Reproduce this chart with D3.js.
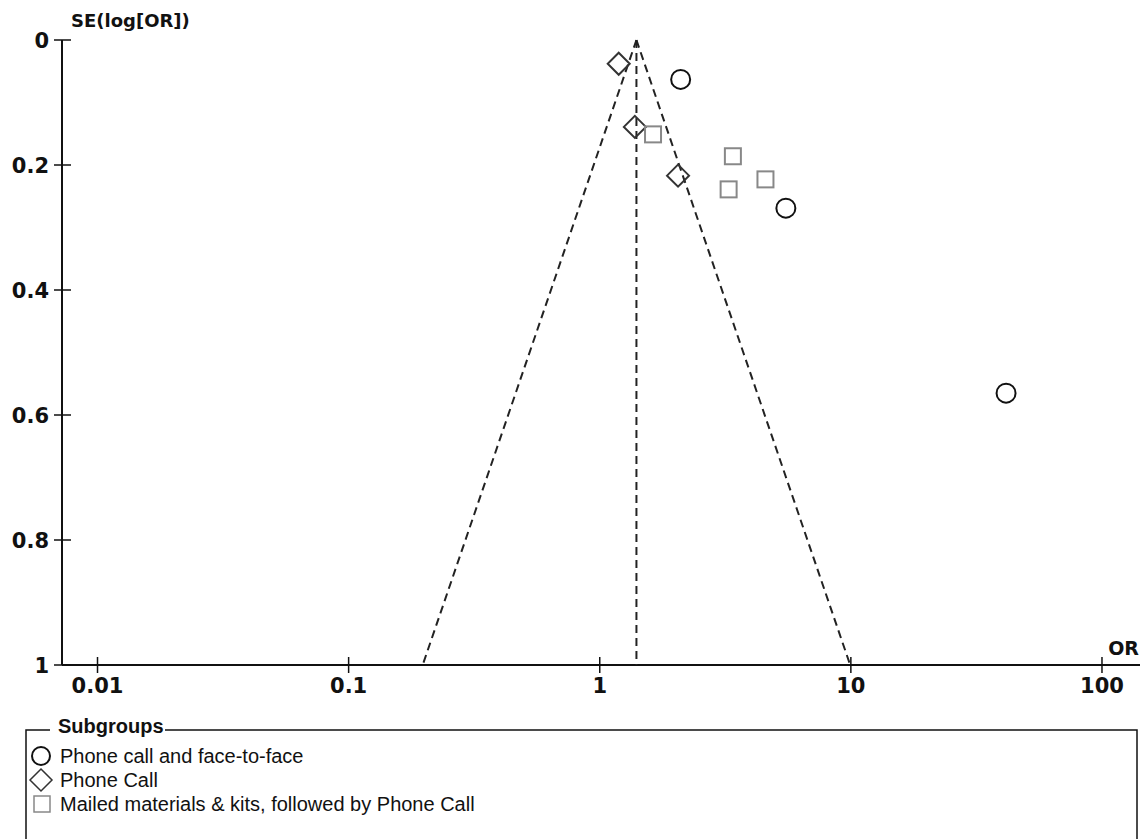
<!DOCTYPE html>
<html><head><meta charset="utf-8">
<script src="https://cdn.jsdelivr.net/npm/d3@7"></script>
<style>body{margin:0;background:#fff}svg{display:block}</style>
</head><body>
<script>
// Data
const groups = ["Phone call and face-to-face", "Phone Call", "Mailed materials & kits, followed by Phone Call"];
const circleOR = [2.10, 5.51, 41.5];
const circleSE = [0.063, 0.269, 0.565];
const diamondOR = [1.19, 1.38, 2.05];
const diamondSE = [0.038, 0.139, 0.217];
const squareOR = [1.63, 3.39, 4.57, 3.26];
const squareSE = [0.151, 0.186, 0.223, 0.239];
const summaryOR = 1.40;
const xTicks = [0.01, 0.1, 1, 10, 100];
const xTickLabels = ["0.01", "0.1", "1", "10", "100"];
const yTicks = [0, 0.2, 0.4, 0.6, 0.8, 1];
const yTickLabels = ["0", "0.2", "0.4", "0.6", "0.8", "1"];

const W = 1140, H = 839;
const svg = d3.select("body").append("svg").attr("width", W).attr("height", H);

const x = d3.scaleLog().domain([Math.pow(10, -2.1414), Math.pow(10, 2.1514)]).range([62, 1140]);
const y = d3.scaleLinear().domain([0, 1]).range([40, 665]);

const tickFont = "'DejaVu Sans', sans-serif";

// Axes
svg.append("line").attr("x1", 62).attr("x2", 62).attr("y1", y(0)).attr("y2", y(1)).attr("stroke", "#111").attr("stroke-width", 2);
svg.append("line").attr("x1", 62).attr("x2", 1140).attr("y1", y(1)).attr("y2", y(1)).attr("stroke", "#111").attr("stroke-width", 2);

yTicks.forEach((t, i) => {
  svg.append("line").attr("x1", 54).attr("x2", 71).attr("y1", y(t)).attr("y2", y(t)).attr("stroke", "#111").attr("stroke-width", 1.5);
  svg.append("text").attr("x", 49).attr("y", y(t)).attr("dy", "0.36em").attr("text-anchor", "end")
    .attr("font-family", tickFont).attr("font-weight", "bold").attr("font-size", 21).attr("fill", "#111")
    .text(yTickLabels[i]);
});
xTicks.forEach((t, i) => {
  svg.append("line").attr("x1", x(t)).attr("x2", x(t)).attr("y1", 657).attr("y2", 673).attr("stroke", "#111").attr("stroke-width", 1.5);
  svg.append("text").attr("x", x(t)).attr("y", 693).attr("text-anchor", "middle")
    .attr("font-family", tickFont).attr("font-weight", "bold").attr("font-size", 21).attr("fill", "#111")
    .text(xTickLabels[i]);
});
svg.append("text").attr("x", 71).attr("y", 27).attr("font-family", tickFont).attr("font-weight", "bold")
  .attr("font-size", 18).attr("fill", "#111").text("SE(log[OR])");
svg.append("text").attr("x", 1139).attr("y", 655).attr("text-anchor", "end").attr("font-family", tickFont).attr("font-weight", "bold")
  .attr("font-size", 19).attr("fill", "#111").text("OR");

// Funnel
const lnS = Math.log(summaryOR);
const dashStyle = sel => sel.attr("stroke", "#222").attr("stroke-width", 2).attr("stroke-dasharray", "8,5").attr("fill", "none");
svg.append("line").attr("x1", x(summaryOR)).attr("x2", x(summaryOR)).attr("y1", y(0)).attr("y2", y(1)).call(dashStyle);
svg.append("line").attr("x1", x(summaryOR)).attr("y1", y(0)).attr("x2", x(Math.exp(lnS - 1.96))).attr("y2", y(1)).call(dashStyle);
svg.append("line").attr("x1", x(summaryOR)).attr("y1", y(0)).attr("x2", x(Math.exp(lnS + 1.96))).attr("y2", y(1)).call(dashStyle);

// Points
circleOR.forEach((o, i) => {
  svg.append("circle").attr("cx", x(o)).attr("cy", y(circleSE[i])).attr("r", 9.5)
    .attr("fill", "none").attr("stroke", "#111").attr("stroke-width", 2);
});
diamondOR.forEach((o, i) => {
  const cx = x(o), cy = y(diamondSE[i]), r = 11;
  svg.append("path").attr("d", `M${cx},${cy - r}L${cx + r},${cy}L${cx},${cy + r}L${cx - r},${cy}Z`)
    .attr("fill", "none").attr("stroke", "#333").attr("stroke-width", 2);
});
squareOR.forEach((o, i) => {
  svg.append("rect").attr("x", x(o) - 8).attr("y", y(squareSE[i]) - 8).attr("width", 16).attr("height", 16)
    .attr("fill", "none").attr("stroke", "#888").attr("stroke-width", 2);
});

// Legend
const legFont = "'Liberation Sans', Arial, sans-serif";
svg.append("path").attr("d", "M50,730 L26,730 L26,845 M1137,845 L1137,730 L165,730")
  .attr("fill", "none").attr("stroke", "#111").attr("stroke-width", 1.5);
svg.append("text").attr("x", 58).attr("y", 733).attr("font-family", legFont).attr("font-weight", "bold")
  .attr("font-size", 20).attr("fill", "#111").text("Subgroups");
const ly = [756, 780, 804];
svg.append("circle").attr("cx", 41).attr("cy", ly[0]).attr("r", 9).attr("fill", "none").attr("stroke", "#111").attr("stroke-width", 2);
svg.append("path").attr("d", `M41,${ly[1] - 11}L52,${ly[1]}L41,${ly[1] + 11}L30,${ly[1]}Z`).attr("fill", "none").attr("stroke", "#333").attr("stroke-width", 1.5);
svg.append("rect").attr("x", 34).attr("y", ly[2] - 8).attr("width", 16).attr("height", 16).attr("fill", "none").attr("stroke", "#888").attr("stroke-width", 1.5);
groups.forEach((g, i) => {
  svg.append("text").attr("x", 60).attr("y", ly[i]).attr("dy", "0.35em").attr("font-family", legFont)
    .attr("font-size", 20).attr("fill", "#111").text(g);
});
</script>
</body></html>
